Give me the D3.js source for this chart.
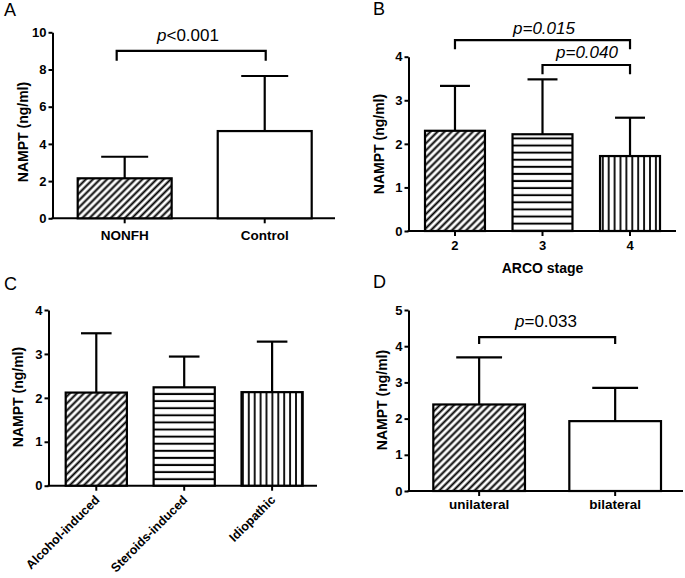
<!DOCTYPE html>
<html><head><meta charset="utf-8">
<script src="https://cdn.jsdelivr.net/npm/d3@7"></script>
<style>
html,body{margin:0;padding:0;background:#fff;}
svg{display:block;font-family:"Liberation Sans",Arial,sans-serif;}
</style></head>
<body>
<svg id="chart" width="685" height="578"></svg>
<script>
// ---------- DATA ----------
const catA = ["NONFH", "Control"];
const meanA = [2.15, 4.69];
const sdA = [1.16, 2.96];
const ticksA = [0, 2, 4, 6, 8, 10];
const fillA = ["diag", "none"];

const catB = ["2", "3", "4"];
const meanB = [2.30, 2.22, 1.72];
const sdB = [1.03, 1.26, 0.88];
const ticksB = [0, 1, 2, 3, 4];
const fillB = ["diag", "horiz", "vert"];

const catC = ["Alcohol-induced", "Steroids-induced", "Idiopathic"];
const meanC = [2.12, 2.24, 2.13];
const sdC = [1.35, 0.70, 1.15];
const ticksC = [0, 1, 2, 3, 4];
const fillC = ["diag", "horiz", "vert"];

const catD = ["unilateral", "bilateral"];
const meanD = [2.39, 1.93];
const sdD = [1.30, 0.92];
const ticksD = [0, 1, 2, 3, 4, 5];
const fillD = ["diag", "none"];

// significance annotations: [from, to, bracket value, leg value, label parts]
const sigA = [["NONFH", "Control", 9.0, 8.47, [["p", true], ["<0.001", false]]]];
const sigB = [["2", "4", 4.38, 4.17, [["p=0.015", true]]], ["3", "4", 3.81, 3.60, [["p=0.040", true]]]];
const sigD = [["unilateral", "bilateral", 4.25, 4.06, [["p", true], ["=0.033", false]]]];

// ---------- DRAW ----------
const svg = d3.select("#chart");
const defs = svg.append("defs");
const black = "#000";

const pd = defs.append("pattern").attr("id", "diag").attr("patternUnits", "userSpaceOnUse")
  .attr("width", 5).attr("height", 10).attr("patternTransform", "rotate(45)");
pd.append("rect").attr("width", 5).attr("height", 10).attr("fill", "#fff");
pd.append("line").attr("x1", 2.5).attr("x2", 2.5).attr("y1", 0).attr("y2", 10)
  .attr("stroke", black).attr("stroke-width", 2);

const ph = defs.append("pattern").attr("id", "horiz").attr("patternUnits", "userSpaceOnUse")
  .attr("width", 10).attr("height", 7.1);
ph.append("rect").attr("width", 10).attr("height", 7.1).attr("fill", "#fff");
ph.append("line").attr("x1", 0).attr("x2", 10).attr("y1", 3.5).attr("y2", 3.5)
  .attr("stroke", black).attr("stroke-width", 2);

const pv = defs.append("pattern").attr("id", "vert").attr("patternUnits", "userSpaceOnUse")
  .attr("width", 5.9).attr("height", 10);
pv.append("rect").attr("width", 5.9).attr("height", 10).attr("fill", "#fff");
pv.append("line").attr("x1", 1).attr("x2", 1).attr("y1", 0).attr("y2", 10)
  .attr("stroke", black).attr("stroke-width", 1.8);

function drawPanel(o) {
  const g = svg.append("g");
  const x = d3.scaleBand().domain(o.cats).range(o.barRange).paddingInner(o.padInner).paddingOuter(0);
  const y = d3.scaleLinear().domain([0, d3.max(o.ticks)]).range(o.yRange);
  const bw = x.bandwidth();

  // y axis
  const ya = g.append("g").attr("transform", `translate(${o.axisX},0)`)
    .call(d3.axisLeft(y).tickValues(o.ticks).tickSize(4).tickSizeOuter(0).tickPadding(2).tickFormat(d3.format("d")));
  ya.select(".domain").attr("stroke", black).attr("stroke-width", 2);
  ya.selectAll(".tick line").attr("stroke", black).attr("stroke-width", 2);
  ya.selectAll(".tick text").attr("fill", black).attr("font-size", 13).attr("font-weight", "bold")
    .attr("font-family", "Liberation Sans, Arial, sans-serif");

  // x axis
  const xa = g.append("g").attr("transform", `translate(0,${o.yRange[0]})`)
    .call(d3.axisBottom(x).tickSize(5).tickSizeOuter(0).tickPadding(o.xPad));
  xa.select(".domain").remove();
  xa.selectAll(".tick line").attr("stroke", black).attr("stroke-width", 2);
  const xt = xa.selectAll(".tick text").attr("fill", black).attr("font-size", o.xFont)
    .attr("font-weight", "bold").attr("font-family", "Liberation Sans, Arial, sans-serif");
  if (o.rotate) {
    xt.attr("text-anchor", "end").attr("dy", null).attr("y", null)
      .attr("transform", `translate(4,15) rotate(-45)`);
  }
  g.append("line").attr("x1", o.axisX - 1).attr("x2", o.axisEnd)
    .attr("y1", o.yRange[0]).attr("y2", o.yRange[0]).attr("stroke", black).attr("stroke-width", 2);

  // bars
  o.cats.forEach((c, i) => {
    const m = o.means[i], s = o.sds[i];
    const x0 = x(c), cx = x0 + bw / 2;
    // error bar
    g.append("line").attr("x1", cx).attr("x2", cx).attr("y1", y(m)).attr("y2", y(m + s))
      .attr("stroke", black).attr("stroke-width", 2.2);
    g.append("line").attr("x1", cx - bw / 4).attr("x2", cx + bw / 4).attr("y1", y(m + s)).attr("y2", y(m + s))
      .attr("stroke", black).attr("stroke-width", 2.2);
    g.append("rect").attr("x", x0).attr("y", y(m)).attr("width", bw).attr("height", y(0) - y(m))
      .attr("fill", o.fills[i] === "none" ? "#fff" : `url(#${o.fills[i]})`)
      .attr("stroke", black).attr("stroke-width", 2.2);
  });

  // y title
  g.append("text").attr("transform", `translate(${o.titleX},${o.titleY}) rotate(-90)`)
    .attr("text-anchor", "middle").attr("font-size", 14).attr("font-weight", "bold").attr("fill", black)
    .text("NAMPT (ng/ml)");

  // panel letter
  g.append("text").attr("x", o.letterX).attr("y", o.letterY).attr("font-size", 18).attr("fill", black).text(o.letter);

  // x title
  if (o.xTitle) {
    g.append("text").attr("x", (x.range()[0] + x.range()[1]) / 2).attr("y", o.xTitleY)
      .attr("text-anchor", "middle").attr("font-size", 14).attr("font-weight", "bold").attr("fill", black)
      .text(o.xTitle);
  }

  // significance
  (o.sig || []).forEach((sg, k) => {
    const off = (o.sigOffset && o.sigOffset[k]) || [0, 0];
    const x1 = x(sg[0]) + bw / 2 + off[0], x2 = x(sg[1]) + bw / 2 + off[1];
    const yt = y(sg[2]), yl = y(sg[3]);
    g.append("path").attr("d", `M${x1},${yl}L${x1},${yt}L${x2},${yt}L${x2},${yl}`)
      .attr("fill", "none").attr("stroke", black).attr("stroke-width", 2.2);
    const t = g.append("text").attr("x", o.sigTextX[k]).attr("y", o.sigTextY[k])
      .attr("text-anchor", "middle").attr("font-size", 17).attr("fill", black);
    sg[4].forEach(p => t.append("tspan").attr("font-style", p[1] ? "italic" : "normal").text(p[0]));
  });
}

drawPanel({
  letter: "A", letterX: 4, letterY: 16,
  cats: catA, means: meanA, sds: sdA, ticks: ticksA, fills: fillA,
  axisX: 52.5, axisEnd: 335, barRange: [77.7, 311.7], padInner: 0.329, yRange: [218.3, 32.3],
  xPad: 7, xFont: 13.5, titleX: 28, titleY: 132,
  sig: sigA, sigOffset: [[-8, 1]], sigTextX: [188], sigTextY: [40.5]
});
drawPanel({
  letter: "B", letterX: 373, letterY: 15,
  cats: catB, means: meanB, sds: sdB, ticks: ticksB, fills: fillB,
  axisX: 408.5, axisEnd: 676, barRange: [425, 660], padInner: 0.315, yRange: [231, 56.7],
  xPad: 5, xFont: 13, titleX: 384, titleY: 144, xTitle: "ARCO stage", xTitleY: 273,
  sig: sigB, sigTextX: [544, 587], sigTextY: [34, 57.5]
});
drawPanel({
  letter: "C", letterX: 4, letterY: 290,
  cats: catC, means: meanC, sds: sdC, ticks: ticksC, fills: fillC,
  axisX: 48.5, axisEnd: 317, barRange: [65.7, 302.7], padInner: 0.304, yRange: [485.7, 310],
  xPad: 5, xFont: 12.5, rotate: true, titleX: 23, titleY: 397
});
drawPanel({
  letter: "D", letterX: 373, letterY: 288,
  cats: catD, means: meanD, sds: sdD, ticks: ticksD, fills: fillD,
  axisX: 408.5, axisEnd: 683, barRange: [433.3, 661], padInner: 0.326, yRange: [491, 310],
  xPad: 3, xFont: 13.5, titleX: 387, titleY: 400,
  sig: sigD, sigTextX: [546], sigTextY: [327]
});
</script>
</body></html>
